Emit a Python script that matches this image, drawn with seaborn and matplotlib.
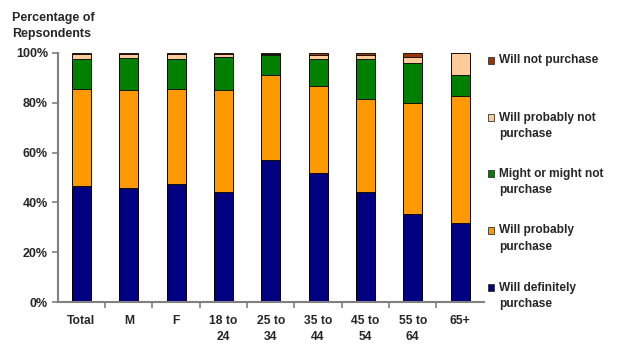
import numpy as np
import pandas as pd
import matplotlib
matplotlib.use("Agg")
import matplotlib.pyplot as plt
from matplotlib.patches import Rectangle
from matplotlib.ticker import FixedLocator, PercentFormatter
import seaborn as sns

# ---------------------------------------------------------
# data (percent of respondents)
# ---------------------------------------------------------
groups = ["Total", "M", "F", "18 to\n24", "25 to\n34", "35 to\n44",
          "45 to\n54", "55 to\n64", "65+"]

will_definitely = [46.7, 45.9, 47.3, 44.2, 57.0, 51.9, 44.0, 35.5, 31.9]
will_probably   = [38.8, 39.0, 38.2, 40.7, 34.3, 34.8, 37.5, 44.5, 50.7]
might_or_not    = [12.0, 13.0, 12.0, 13.6,  7.9, 10.8, 16.0, 16.0,  8.7]
probably_not    = [ 2.0,  1.6,  2.0,  1.0,  0.5,  1.8,  1.8,  2.5,  8.7]
will_not        = [ 0.5,  0.5,  0.5,  0.5,  0.3,  0.7,  0.7,  1.5,  0.0]

series_names = ["Will definitely\npurchase", "Will probably\npurchase",
                "Might or might not\npurchase", "Will probably not\npurchase",
                "Will not purchase"]
series_vals = [will_definitely, will_probably, might_or_not, probably_not, will_not]
colors = ["#000080", "#FF9900", "#008000", "#FFCC99", "#993300"]

df = pd.DataFrame({"group": groups})
cum = np.cumsum(np.array(series_vals), axis=0)

# ---------------------------------------------------------
# plot
# ---------------------------------------------------------
sns.set_style("white")
plt.rcParams["font.family"] = ["Liberation Sans", "DejaVu Sans"]
plt.rcParams["font.weight"] = "bold"

W, H = 621, 357
fig = plt.figure(figsize=(W / 100, H / 100), dpi=100)
ax = fig.add_axes([0.093, 0.154, 0.686, 0.698])

# stacked bars: draw cumulative totals from the top layer down
for i in range(len(series_vals) - 1, -1, -1):
    df["val"] = cum[i]
    sns.barplot(data=df, x="group", y="val", color=colors[i], width=0.4,
                edgecolor="black", linewidth=0.6, saturation=1, ax=ax)

ax.set_ylim(0, 100)
ax.set_xlim(-0.5, len(groups) - 0.5)
ax.set_yticks([0, 20, 40, 60, 80, 100])
ax.yaxis.set_major_formatter(PercentFormatter(decimals=0))
ax.set_xlabel("")
ax.set_ylabel("")

ax.xaxis.set_minor_locator(FixedLocator(np.arange(0.5, len(groups) - 0.5, 1)))
ax.tick_params(axis="x", which="major", length=0, pad=9, labelsize=8.7)
ax.tick_params(axis="x", which="minor", length=4, color="#808080", width=1.2,
               direction="out", bottom=True)
ax.tick_params(axis="y", which="major", length=4, color="#808080", width=1.2,
               direction="out", left=True, labelsize=9, pad=3)
for lbl in ax.get_xticklabels() + ax.get_yticklabels():
    lbl.set_fontweight("bold")
for lbl in ax.get_xticklabels():
    lbl.set_linespacing(1.5)

for s in ["top", "right"]:
    ax.spines[s].set_visible(False)
for s in ["left", "bottom"]:
    ax.spines[s].set_color("#808080")
    ax.spines[s].set_linewidth(1.5)

fig.text(12 / W, 1 - 12 / H, "Percentage of\nRepsondents", fontsize=9,
         fontweight="bold", va="top", ha="left", linespacing=1.4)

# legend drawn by hand so the swatch sits on the first text line
legend_rows = [60, 117, 173, 230, 287]  # pixel y of first line, top to bottom
for k, i in enumerate(range(len(series_vals) - 1, -1, -1)):
    yc = legend_rows[k]
    fig.patches.append(Rectangle((487.5 / W, 1 - (yc + 3.5) / H), 6.5 / W, 6.5 / H,
                                 transform=fig.transFigure, facecolor=colors[i],
                                 edgecolor="#333333", linewidth=0.6))
    fig.text(499 / W, 1 - (yc - 5.5) / H, series_names[i], fontsize=8.6,
             fontweight="bold", va="top", ha="left", linespacing=1.45)

fig.savefig("out.png", dpi=100)
